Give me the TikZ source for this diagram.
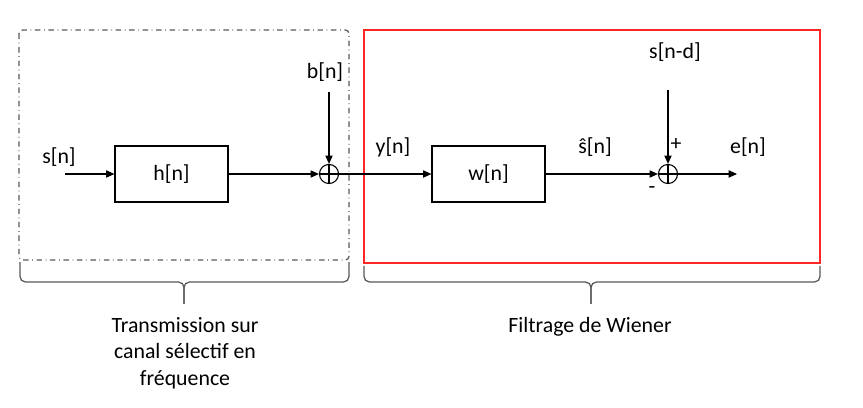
\documentclass[tikz,border=0pt]{standalone}
\usepackage{fontspec}
\setmainfont{Carlito}
\usetikzlibrary{arrows.meta,positioning,calc}

\begin{document}
\begin{tikzpicture}[x=0.55pt,y=-0.55pt,font=\fontsize{12}{14.6}\selectfont,
	>={Triangle[length=4.6pt,width=4pt]},
	bloc/.style={draw,line width=0.8pt,minimum width=62pt,minimum height=31pt,inner sep=0pt},
	sommateur/.style={draw,circle,line width=0.6pt,minimum size=10.5pt,inner sep=0pt,
		path picture={\draw[line width=0.6pt] (path picture bounding box.north) -- (path picture bounding box.south)
			(path picture bounding box.west) -- (path picture bounding box.east);}},
	fleche/.style={->,line width=0.6pt},
	accolade/.style={draw=black!65,line width=0.7pt,rounded corners=3pt}]
	\useasboundingbox (0,0) rectangle (863,408);
	% cadres
	\draw[black!65,dash dot,line width=0.7pt,rounded corners=2pt] (19,30) rectangle (349,260);
	\draw[red!85,line width=0.8pt] (364,30) rectangle (820,263);
	% canal
	\coordinate (entree) at (65,174);
	\node (sn) at (59,157) {s[n]};
	\node[bloc] (h) at (171.5,174) {h[n]};
	\node[sommateur] (add1) at (329,174) {};
	\coordinate (bruit) at (329,92);
	\node (bn) at (325,72) {b[n]};
	\draw[fleche] (entree) -- (h);
	\draw[fleche] (h) -- (add1);
	\draw[fleche] (bruit) -- (add1);
	% filtre de Wiener
	\node[bloc] (w) at (488.5,174) {w[n]};
	\node (yn) at (393,147) {y[n]};
	\node[sommateur] (add2) at (668,174) {};
	\coordinate (ref) at (668,90);
	\node (snd) at (675,52) {s[n-d]};
	\node (shat) at (595,147) {ŝ[n]};
	\coordinate (sortie) at (737,174);
	\node (en) at (748,147) {e[n]};
	\node (plus) at (676,145) {+};
	\node (moins) at (652,190) {-};
	\draw[fleche] (add1) -- (w);
	\draw[fleche] (w) -- (add2);
	\draw[fleche] (ref) -- (add2);
	\draw[fleche] (add2) -- (sortie);
	% accolades
	\draw[accolade] (20,262) -- (20,282) -- (184,282) -- (184,304);
	\draw[accolade] (349,262) -- (349,282) -- (184,282) -- (184,304);
	\draw[accolade] (364,266) -- (364,282) -- (591,282) -- (591,304);
	\draw[accolade] (820,266) -- (820,282) -- (591,282) -- (591,304);
	\node[align=center] (canal) at (185,353) {Transmission sur\\canal sélectif en\\fréquence};
	\node (wiener) at (590,327) {Filtrage de Wiener};
\end{tikzpicture}
\end{document}
